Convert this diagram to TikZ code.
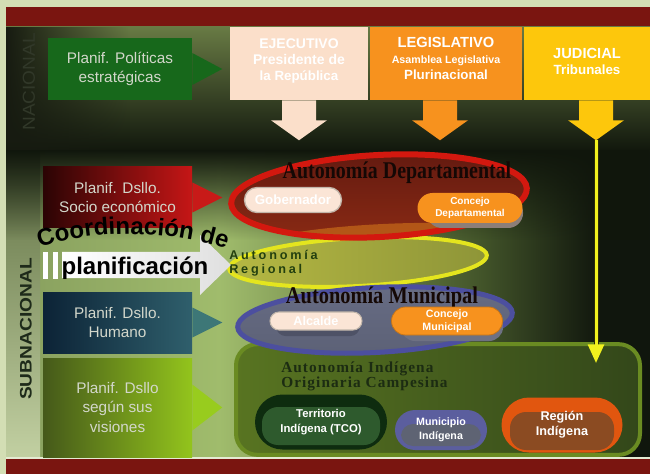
\documentclass[tikz,border=0pt]{standalone}
\usepackage{fontspec}
\setmainfont{Liberation Sans}
\newfontfamily\ttl{Liberation Serif}
\newfontfamily\indf[LetterSpace=7]{Liberation Serif}
\newfontfamily\regf[LetterSpace=22]{Liberation Sans}
\usetikzlibrary{calc,fadings,decorations.text,arrows.meta,shapes.misc,shapes.geometric}
\newcommand\coordf{\bfseries\fontsize{18}{18}\selectfont}
\definecolor{bgl}{HTML}{D3DEB4}
\definecolor{band}{HTML}{7A1510}
\definecolor{up1}{HTML}{687A44}
\definecolor{up2}{HTML}{4A5C30}
\definecolor{up3}{HTML}{10160C}
\definecolor{dk}{HTML}{171B11}
\definecolor{lo0}{HTML}{879E5E}
\definecolor{lo1}{HTML}{A0BC6C}
\definecolor{lo2}{HTML}{43552A}
\definecolor{lo3}{HTML}{10160D}
\definecolor{col1}{HTML}{5F7042}
\definecolor{col2}{HTML}{C2D0A2}
\definecolor{ppsg}{HTML}{17681B}
\definecolor{redL}{HTML}{2B0404}
\definecolor{redR}{HTML}{C51616}
\definecolor{redA}{HTML}{C81A18}
\definecolor{humL}{HTML}{0C2336}
\definecolor{humR}{HTML}{2F5F6C}
\definecolor{humA}{HTML}{3D7777}
\definecolor{visL}{HTML}{45591A}
\definecolor{visR}{HTML}{93C41C}
\definecolor{visA}{HTML}{98CC1E}
\definecolor{btxt}{HTML}{D3D7CB}
\definecolor{peach}{HTML}{FBDFCA}
\definecolor{orng}{HTML}{F7921E}
\definecolor{yell}{HTML}{FDC70C}
\definecolor{indR}{HTML}{6A8B22}
\definecolor{indL}{HTML}{587421}
\definecolor{indD}{HTML}{33471A}
\definecolor{indT}{HTML}{1C2C12}
\definecolor{yelR}{HTML}{E4E51E}
\definecolor{yelL}{HTML}{B5B843}
\definecolor{yelD}{HTML}{8E9538}
\definecolor{regT}{HTML}{23400F}
\definecolor{depR}{HTML}{D3180F}
\definecolor{depT}{HTML}{631A10}
\definecolor{depB}{HTML}{8A2A14}
\definecolor{depO}{HTML}{D2761A}
\definecolor{bluR}{HTML}{4C4F9F}
\definecolor{bluT}{HTML}{676C84}
\definecolor{bluB}{HTML}{5C6176}
\definecolor{ttlc}{HTML}{150805}
\definecolor{gobF}{HTML}{FBE5D6}
\definecolor{gobD}{HTML}{C2B6AA}
\definecolor{tcoO}{HTML}{0E2C0F}
\definecolor{tcoI}{HTML}{2E5A2D}
\definecolor{minO}{HTML}{5B5E9E}
\definecolor{minI}{HTML}{5E6373}
\definecolor{rgO}{HTML}{E1560F}
\definecolor{rgI}{HTML}{8B4B22}
\definecolor{jyel}{HTML}{F1F11E}
\definecolor{jdark}{HTML}{2A2A08}
\definecolor{shA}{HTML}{8C7E78}
\definecolor{shB}{HTML}{4E5266}
\definecolor{shC}{HTML}{6E7183}
\definecolor{nacc}{HTML}{313829}
\definecolor{subc}{HTML}{1E2A1A}
\begin{document}
\begin{tikzpicture}[x=0.75pt,y=-0.75pt,
  lbox/.style={rectangle, inner sep=0pt, minimum width=111.75pt, align=center, text=btxt, font=\fontsize{11.5}{14.5}\selectfont},
  natbox/.style={rectangle, inner sep=0pt, minimum height=54.75pt},
  nattext/.style={align=center, text=white, inner sep=0pt, font=\bfseries},
  pill/.style={rounded rectangle, inner sep=0pt, align=center, text=white, font=\bfseries\fontsize{8}{9.5}\selectfont},
  ttlnode/.style={font=\ttl\bfseries\fontsize{18}{18}\selectfont, text=ttlc, inner sep=0pt},
  ellip/.style={ellipse, inner sep=0pt, rotate=3}
]
\useasboundingbox (0,0) rectangle (650,474);
% background
\fill[bgl] (0,0) rectangle (650,474);
\fill[band] (6,7) rectangle (650,27);
\shade[top color=up1, middle color=up2, bottom color=up3] (6,27) rectangle (650,152);
\fill[dk, path fading=east] (6,27) rectangle (130,152);
\shade[left color=lo0, right color=lo1] (6,152) rectangle (220,457);
\shade[left color=lo1, right color=lo2] (219.5,152) rectangle (480,457);
\shade[left color=lo2, right color=lo3] (479.5,152) rectangle (600,457);
\fill[lo3] (599.5,152) rectangle (650,457);
\shade[top color=col1, bottom color=col2] (6,152) rectangle (40,457);
\fill[up3, path fading=south] (6,150) rectangle (650,240);
\fill[bgl!60!white] (6,457) rectangle (650,459);
\fill[band] (6,459) rectangle (650,474);

% side labels
\node[rotate=90, text=nacc, font=\fontsize{13}{13}\selectfont, inner sep=0pt] (nac) at (29,82) {\scalebox{1.1}[1]{NACIONAL}};
\node[rotate=90, text=subc, font=\bfseries\fontsize{12.5}{12.5}\selectfont, inner sep=0pt] (sub) at (26,329) {\scalebox{1.15}[1]{SUBNACIONAL}};

% national level
\node[lbox, fill=ppsg, minimum width=108pt, minimum height=46.5pt, font=\fontsize{11.5}{14}\selectfont] (pps) at (120,69) {Planif. Políticas\\estratégicas};
\fill[ppsg] ($(pps.east)+(0,-16)$) -- ($(pps.east)+(30,0)$) -- ($(pps.east)+(0,16)$) -- cycle;

\node[natbox, fill=peach, minimum width=103.5pt] (ejec) at (299,63.5) {};
\node[nattext] (eject) at (299,61) {\fontsize{10.5}{12}\selectfont EJECUTIVO\\\fontsize{10.5}{12}\selectfont Presidente de\\la República};
\node[natbox, fill=orng, minimum width=114pt] (legis) at (446,63.5) {};
\node[nattext] (legist) at (446,58) {\fontsize{11}{12}\selectfont LEGISLATIVO\\\fontsize{8}{9.5}\selectfont Asamblea Legislativa\\Plurinacional};
\node[natbox, fill=yell, minimum width=94.5pt] (judi) at (587,63.5) {};
\node[nattext] (judit) at (587,61) {\fontsize{11}{13}\selectfont JUDICIAL\\\fontsize{10}{12}\selectfont Tribunales};

\fill[peach] ($(ejec.south)+(-17,0)$) -- ++(34,0) -- ++(0,20) -- ++(11,0) -- ++(-28,20) -- ++(-28,-20) -- ++(11,0) -- cycle;
\fill[orng] ($(legis.south)+(-23,0)$) -- ++(34,0) -- ++(0,20) -- ++(11,0) -- ++(-28,20) -- ++(-28,-20) -- ++(11,0) -- cycle;
\fill[yell] ($(judi.south)+(-8,0)$) -- ++(34,0) -- ++(0,20) -- ++(11,0) -- ++(-28,20) -- ++(-28,-20) -- ++(11,0) -- cycle;
\coordinate (jtip) at ($(judi.south)+(9,40)$);
\coordinate (jend) at (596,363);

% subnational left boxes
\node[lbox, minimum height=45.75pt, left color=redL, right color=redR] (sec) at (117.5,197.5) {Planif. Dsllo.\\Socio económico};
\fill[redA] ($(sec.east)+(0,-15)$) -- ($(sec.east)+(30,0)$) -- ($(sec.east)+(0,15)$) -- cycle;
\node[lbox, minimum height=45.75pt, left color=humL, right color=humR] (hum) at (117.5,322.5) {Planif. Dsllo.\\Humano};
\fill[humA] ($(hum.east)+(0,-15)$) -- ($(hum.east)+(30,0)$) -- ($(hum.east)+(0,15)$) -- cycle;
\node[lbox, minimum height=74.25pt, left color=visL, right color=visR] (vis) at (117.5,407.5) {Planif. Dsllo\\según sus\\visiones};
\fill[visA] ($(vis.east)+(0,-23)$) -- ($(vis.east)+(30,0)$) -- ($(vis.east)+(0,23)$) -- cycle;

% indigenous autonomy
\node[rectangle, rounded corners=16pt, draw=indR, line width=3pt, left color=indL, right color=indD, minimum width=303pt, minimum height=83pt] (ind) at (438,399.5) {};
\node[align=left, anchor=west, inner sep=0pt, font=\indf\bfseries\fontsize{11.5}{11.25}\selectfont, text=indT] (tind) at (281,376.5) {Autonomía Indígena\\Originaria Campesina};
\node[pill, minimum width=99pt, minimum height=41.25pt, fill=tcoO, font=\bfseries\fontsize{8.5}{11}\selectfont,
  path picture={\fill[tcoI, rounded corners=12pt] ($(path picture bounding box.center)+(-59,-15)$) rectangle ($(path picture bounding box.center)+(59,23)$);}] (tco) at (321,422) {Territorio\\Indígena (TCO)};
\node[pill, minimum width=69pt, minimum height=30pt, fill=minO, font=\bfseries\fontsize{8}{10.5}\selectfont,
  path picture={\fill[minI, rounded corners=9pt] ($(path picture bounding box.center)+(-40,-6)$) rectangle ($(path picture bounding box.center)+(40,16)$);}] (mind) at (441,430) {Municipio\\Indígena};
\node[pill, minimum width=90.75pt, minimum height=41.25pt, fill=rgO, font=\bfseries\fontsize{9.5}{11}\selectfont,
  path picture={\fill[rgI, rounded corners=12pt] ($(path picture bounding box.center)+(-52,-13)$) rectangle ($(path picture bounding box.center)+(52,25)$);}] (rgi) at (562,425) {Región\\Indígena};

% judicial connector
\draw[line width=3.75pt, jdark] (jtip) -- ($(jend)+(0,-14)$);
\draw[line width=2.25pt, jyel, -{Triangle[width=12pt,length=14pt]}] (jtip) -- (jend);

% regional autonomy
\node[ellip, draw=yelR, line width=3pt, left color=yelL, right color=yelD, minimum width=193.5pt, minimum height=36pt] (regn) at (358,262) {};
\node[align=left, anchor=west, inner sep=0pt, font=\regf\bfseries\fontsize{9.5}{10.5}\selectfont, text=regT] (treg) at (229,263) {Autonomía\\Regional};

% departmental autonomy
\node[ellip, draw=depR, line width=4.5pt, top color=depT, bottom color=depB, minimum width=222pt, minimum height=61.5pt,
  path picture={\fill[depO, opacity=.6] ($(path picture bounding box.south)+(0,-3)$) ellipse [x radius=120, y radius=14];}] (depa) at (379,196) {};
\node[ttlnode] (tdep) at (397,173) {\scalebox{0.83}[1]{Autonomía Departamental}};
\node[pill, minimum width=72.75pt, minimum height=18.75pt, fill=gobF, draw=gobD, line width=1pt, font=\bfseries\fontsize{10}{11}\selectfont] (gob) at (293,200) {Gobernador};
\node[rounded rectangle, minimum width=78.75pt, minimum height=22.5pt, fill=shA] (cdeps) at (475,213) {};
\node[pill, minimum width=78.75pt, minimum height=22.5pt, fill=orng, font=\bfseries\fontsize{7.5}{9}\selectfont] (cdep) at (470,208) {Concejo\\Departamental};

% municipal autonomy
\node[ellip, draw=bluR, line width=3.75pt, top color=bluT, bottom color=bluB, minimum width=206.25pt, minimum height=48.75pt] (muni) at (375,320) {};
\node[ttlnode] (tmun) at (382,298) {\scalebox{0.85}[1]{Autonomía Municipal}};
\node[rounded rectangle, minimum width=69pt, minimum height=13.5pt, fill=shB] (alcs) at (318,327) {};
\node[pill, minimum width=69pt, minimum height=13.5pt, fill=gobF, draw=gobD, line width=0.8pt, font=\bfseries\fontsize{9.5}{10}\selectfont] (alc) at (316,321) {Alcalde};
\node[rounded rectangle, minimum width=83.25pt, minimum height=21pt, fill=shC] (cmuns) at (452,327) {};
\node[pill, minimum width=83.25pt, minimum height=21pt, fill=orng, draw=orng!80!black, line width=0.6pt, font=\bfseries\fontsize{8}{9.5}\selectfont] (cmun) at (447,321) {Concejo\\Municipal};

% coordination arrow
\shade[left color=white, right color=gray!25] (62,252) -- (200,252) -- (200,235) -- (231,265) -- (200,295) -- (200,278) -- (62,278) -- cycle;
\fill[white] (43,252) rectangle (48,279);
\fill[white] (53,252) rectangle (58,279);
\node[font=\bfseries\fontsize{18}{18}\selectfont, inner sep=0pt] (plan) at (135,268) {planificación};
\path[decorate, decoration={text along path, text align=center, text={|\coordf|Coordinación de}}] (31,252) .. controls (70,231) and (172,225) .. (235,253);
\end{tikzpicture}
\end{document}
